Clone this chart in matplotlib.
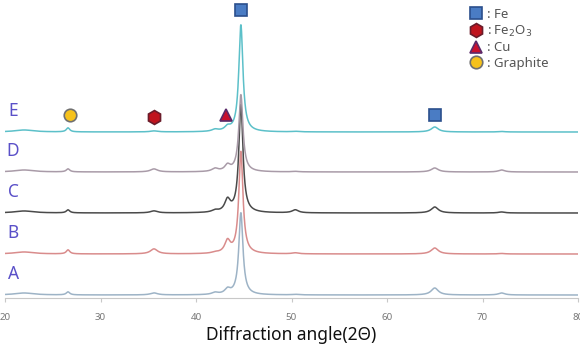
import numpy as np
import matplotlib
matplotlib.use('Agg')
import matplotlib.pyplot as plt
from matplotlib.lines import Line2D

plt.rcParams['font.family'] = ['Noto Sans', 'DejaVu Sans']

# muestras (de abajo hacia arriba)
muestras = ['A', 'B', 'C', 'D', 'E']
colores = ['#9db3c6', '#d98c8c', '#4a4a4a', '#a99ba8', '#5cc0c9']

# posiciones de picos (2θ)
picos = [22.0, 26.6, 35.6, 42.0, 43.3, 44.7, 50.4, 65.0, 72.0]
anchos = [1.2, 0.22, 0.45, 0.4, 0.35, 0.26, 0.4, 0.45, 0.4]
# intensidades relativas por muestra (mismo orden que picos)
alturas = {
    'A': [2.0, 3.0, 2.0, 2.0, 5.0, 82.0, 0.5, 7.0, 2.0],
    'B': [2.0, 4.0, 5.0, 1.0, 12.0, 102.0, 1.0, 6.0, 0.5],
    'C': [2.0, 3.0, 2.0, 2.0, 12.0, 108.0, 3.0, 6.0, 1.0],
    'D': [2.0, 3.0, 3.0, 3.0, 6.0, 77.0, 0.5, 4.0, 2.0],
    'E': [2.0, 4.0, 1.0, 2.0, 4.0, 107.0, 0.5, 5.0, 0.5],
}

# marcadores de fases sobre la curva E
fase_x = [26.8, 35.6, 43.1, 44.7, 65.0]
fase_y = [183, 181, 183, 288, 183]
fase_tipo = ['Graphite', 'Fe2O3', 'Cu', 'Fe', 'Fe']

estilos = {
    'Fe': dict(marker='s', color='#4a7cc4', mec='#2b4f8c', ms=9),
    'Fe2O3': dict(marker='h', color='#c0141e', mec='#6a1c2a', ms=10),
    'Cu': dict(marker='^', color='#c8102e', mec='#5a2a6a', ms=9),
    'Graphite': dict(marker='o', color='#f6c21c', mec='#707070', ms=9),
}

desplazamiento = [3, 44, 85, 126, 166]

x = np.linspace(20, 80, 3000)

fig = plt.figure(figsize=(5.8, 3.47), dpi=100)
ax = fig.add_axes([5 / 580, 49 / 347, 573 / 580, 298 / 347])

for i, m in enumerate(muestras):
    y = np.zeros_like(x)
    for p, w, h in zip(picos, anchos, alturas[m]):
        y += h / (1 + ((x - p) / w) ** 2)
    ax.plot(x, y + desplazamiento[i], color=colores[i], lw=1.1)
    ax.text(20.85, desplazamiento[i] + 21, m, color='#5a50c8', fontsize=12.5,
            ha='center', va='center')

for fx, fy, t in zip(fase_x, fase_y, fase_tipo):
    ax.plot(fx, fy, ls='none', mew=1.2, **estilos[t])

# leyenda
etiquetas = [': Fe', ': Fe$_2$O$_3$', ': Cu', ': Graphite']
handles = [Line2D([], [], ls='none', mew=1.2, **estilos[k])
           for k in ['Fe', 'Fe2O3', 'Cu', 'Graphite']]
leg = ax.legend(handles, etiquetas, loc='upper left', bbox_to_anchor=(0.795, 1.0),
                frameon=False, fontsize=9.5, handletextpad=0.2, labelspacing=0.2,
                handlelength=1.2, borderpad=0.1)
for t in leg.get_texts():
    t.set_color('#555555')

ax.set_xlim(20, 80)
ax.set_ylim(0, 298)
ax.set_yticks([])
for s in ['top', 'right', 'left']:
    ax.spines[s].set_visible(False)
ax.spines['bottom'].set_color('#c8c8c8')
ax.set_xticks([20, 30, 40, 50, 60, 70, 80])
ax.tick_params(axis='x', colors='#c8c8c8', labelcolor='#777777', labelsize=7,
               length=3, pad=8)
ax.set_xlabel('Diffraction angle(2Θ)', fontsize=12.5, fontweight='bold',
              labelpad=3, color='#111111')

fig.savefig('out.png', dpi=100)
